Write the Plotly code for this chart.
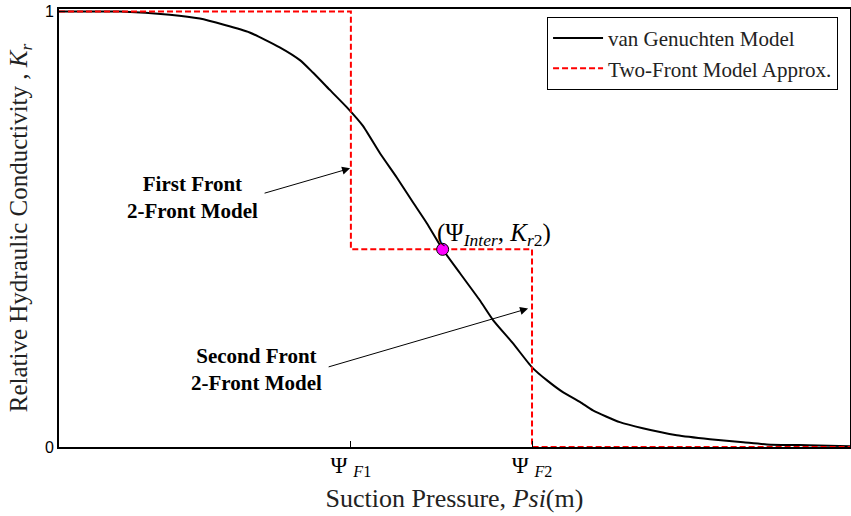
import plotly.graph_objects as go

# van Genuchten curve (x in arbitrary suction units 0-100, Kr 0-1)
vg_x = [0, 7.7, 14.0, 17.8, 24.1, 27.9, 30.5, 32.1, 34.3, 36.4, 38.4, 40.6, 42.7, 44.6,
        46.5, 48.5, 50.7, 53.2, 54.9, 57.4, 59.8, 61.7, 63.7, 65.9, 67.5, 70.9, 73.8,
        78.1, 82.3, 86.5, 89.5, 94.6, 100]
vg_k = [1.0, 1.0, 0.993, 0.984, 0.952, 0.918, 0.888, 0.860, 0.819, 0.780, 0.738, 0.674,
        0.619, 0.566, 0.514, 0.454, 0.399, 0.337, 0.291, 0.238, 0.183, 0.153, 0.126,
        0.103, 0.084, 0.057, 0.043, 0.027, 0.018, 0.011, 0.006, 0.004, 0.002]

# Two-front approximation
psi_f1 = 36.9
psi_f2 = 59.8
psi_inter = 48.5
kr2 = 0.454
tf_x = [0, psi_f1, psi_f1, psi_f2, psi_f2, 100]
tf_k = [1.0, 1.0, kr2, kr2, 0.0, 0.0]

x_tick_vals = [psi_f1, psi_f2]
x_tick_text = ["Ψ <sub><i>F</i>1</sub>", "Ψ <sub><i>F</i>2</sub>"]
y_tick_vals = [0, 1]
y_tick_text = ["0", "1"]

serif = "Liberation Serif"

fig = go.Figure()
fig.add_trace(go.Scatter(x=vg_x, y=vg_k, mode="lines", name="van Genuchten Model",
                         line=dict(color="black", width=2, shape="spline", smoothing=0.5)))
fig.add_trace(go.Scatter(x=tf_x, y=tf_k, mode="lines", name="Two-Front Model Approx.",
                         line=dict(color="#ff0000", width=2, dash="6px,3px")))
fig.add_trace(go.Scatter(x=[psi_inter], y=[kr2], mode="markers", showlegend=False,
                         marker=dict(color="#ff00ff", size=12,
                                     line=dict(color="black", width=1))))

annotations = [
    dict(x=16.9, y=0.574, text="<b>First Front<br>2-Front Model</b>", showarrow=False,
         font=dict(family=serif, size=21, color="black"), xanchor="center", yanchor="middle"),
    dict(x=25.0, y=0.178, text="<b>Second Front<br>2-Front Model</b>", showarrow=False,
         font=dict(family=serif, size=21, color="black"), xanchor="center", yanchor="middle"),
    dict(x=36.8, y=0.640, ax=25.8, ay=0.582, axref="x", ayref="y", text="",
         showarrow=True, arrowhead=2, arrowsize=1.6, arrowwidth=1, arrowcolor="black"),
    dict(x=59.3, y=0.318, ax=33.9, ay=0.183, axref="x", ayref="y", text="",
         showarrow=True, arrowhead=2, arrowsize=1.6, arrowwidth=1, arrowcolor="black"),
    dict(x=47.5, y=0.488, text="(Ψ<sub><i>Inter</i></sub>, <i>K</i><sub><i>r</i>2</sub>)",
         showarrow=False, xanchor="left", yanchor="middle",
         font=dict(family=serif, size=25, color="black")),
]

fig.update_layout(
    width=851, height=516,
    margin=dict(l=59, r=1, t=9, b=69),
    paper_bgcolor="white", plot_bgcolor="white",
    annotations=annotations,
    legend=dict(x=0.617, y=0.982, xanchor="left", yanchor="top",
                bordercolor="black", borderwidth=1, bgcolor="white",
                itemwidth=50,
                font=dict(family=serif, size=21, color="#222")),
    xaxis=dict(range=[0, 100], tickvals=x_tick_vals, ticktext=x_tick_text,
               ticks="inside", ticklen=6, tickcolor="black", automargin=False,
               ticklabelstandoff=-4,
               showgrid=False, zeroline=False, showline=True, linecolor="black",
               linewidth=2, mirror=True,
               tickfont=dict(family=serif, size=23, color="black"),
               title=dict(text="Suction Pressure, <i>Psi</i>(m)",
                          font=dict(family=serif, size=26, color="#222"), standoff=9)),
    yaxis=dict(range=[0, 1.006], tickvals=y_tick_vals, ticktext=y_tick_text,
               ticks="inside", ticklen=7, tickcolor="black", automargin=False,
               ticklabeloverflow="allow",
               showgrid=False, zeroline=False, showline=True, linecolor="black",
               linewidth=2, mirror=True,
               tickfont=dict(family="Liberation Sans", size=16, color="black"),
               title=dict(text="Relative Hydraulic Conductivity , <i>K<sub>r</sub></i>",
                          font=dict(family=serif, size=25, color="#222"), standoff=10)),
)

# remove the page's default body margin so the figure fills the window exactly
fig.write_html("out.html", config={"displayModeBar": False},
               post_script="document.body.style.margin='0';")
